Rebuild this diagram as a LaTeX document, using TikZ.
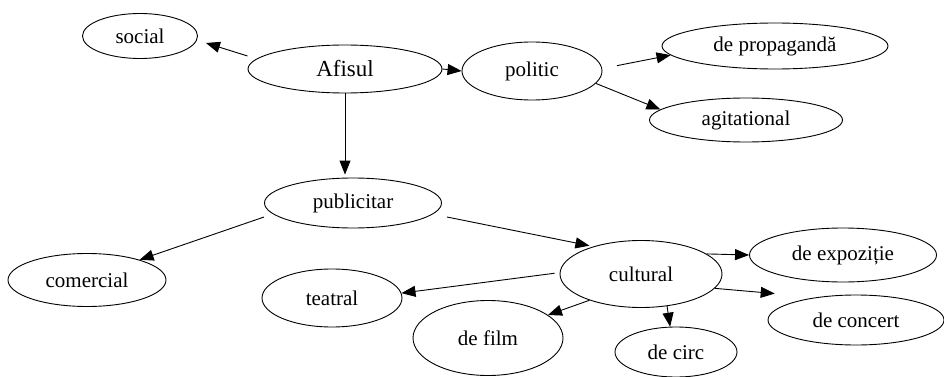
\documentclass[tikz,border=0pt]{standalone}
\usepackage{fontspec}
\setmainfont{Liberation Serif}
\usetikzlibrary{shapes.geometric,arrows.meta}

\begin{document}
\begin{tikzpicture}[x=1pt,y=-1pt,
  oval/.style={ellipse,draw,line width=0.9pt,inner sep=0pt,font=\rmfamily\fontsize{21}{25}\selectfont},
  arr/.style={line width=0.9pt,-{Triangle[length=14pt,width=11pt]}}]

  \useasboundingbox (0,0) rectangle (944,377);

  % top row
  \node[oval,minimum width=194,minimum height=48,font=\rmfamily\fontsize{23}{27}\selectfont] (afisul) at (345,69) {Afisul};
  \node[oval,minimum width=115,minimum height=45] (social) at (140,36) {social};
  \node[oval,minimum width=140,minimum height=58] (politic) at (532,71) {politic};
  \node[oval,minimum width=226,minimum height=46] (propaganda) at (775,46) {de propagandă};
  \node[oval,minimum width=193,minimum height=44] (agitational) at (746,120) {agitational};

  % publicitar branch
  \node[oval,minimum width=177,minimum height=50] (publicitar) at (353,203) {publicitar};
  \node[oval,minimum width=158,minimum height=53] (comercial) at (87,280) {comercial};
  \node[oval,minimum width=162,minimum height=67] (cultural) at (641,274) {cultural};

  % cultural branch
  \node[oval,minimum width=140,minimum height=58] (teatral) at (332,298) {teatral};
  \node[oval,minimum width=150,minimum height=75] (film) at (488,338) {de film};
  \node[oval,minimum width=122,minimum height=50] (circ) at (676,352) {de circ};
  \node[oval,minimum width=187,minimum height=54] (expozitie) at (843,255) {de expoziție};
  \node[oval,minimum width=176,minimum height=50] (concert) at (856,320) {de concert};

  % arrows
  \draw[arr] ([yshift=13pt]afisul.west) -- ([shift={(8pt,-7pt)}]social.east);
  \draw[arr] (afisul.east) -- (politic.west);
  \draw[arr,shorten >=3pt] (afisul.south) -- (afisul.south |- publicitar.north);
  \draw[arr,shorten <=15pt] (politic.2) -- (propaganda.185);
  \draw[arr] (politic.-11) -- (agitational.173);
  \draw[arr] ([yshift=-14pt]publicitar.west) -- (comercial.21);
  \draw[arr,shorten >=4pt] ([shift={(5pt,-14pt)}]publicitar.east) -- (cultural.150);
  \draw[arr,shorten <=5pt] (cultural.179) -- (teatral.4);
  \draw[arr] (cultural.207) -- (film.21);
  \draw[arr] (cultural.-51) -- (circ.103);
  \draw[arr] (cultural.17) -- (expozitie.west);
  \draw[arr,shorten >=42pt] (cultural.-11) -- (concert.150);

\end{tikzpicture}
\end{document}
